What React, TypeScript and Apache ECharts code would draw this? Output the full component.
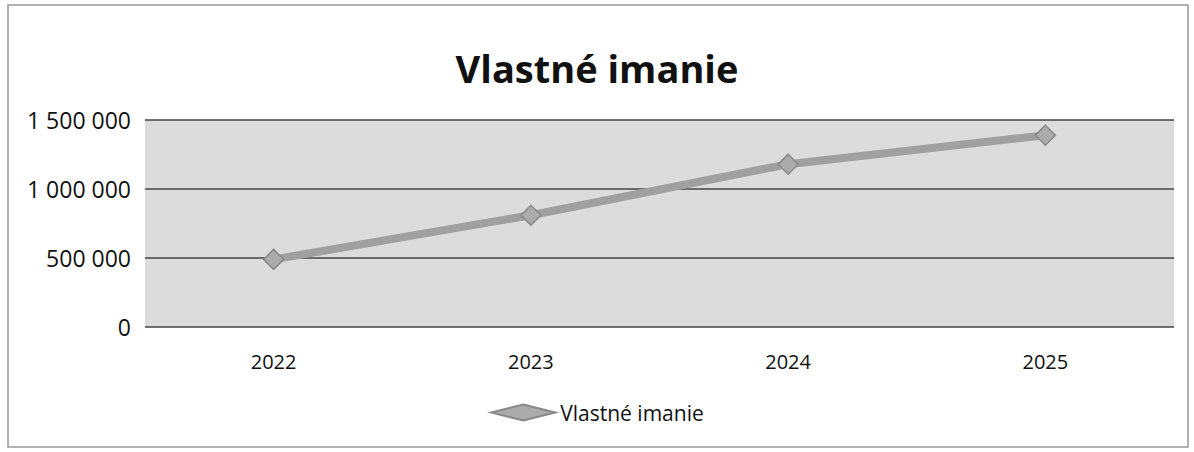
import React, { useEffect, useRef } from "react";
import * as echarts from "echarts";

const title = "Vlastné imanie";
const seriesName = "Vlastné imanie";
const categories = ["2022", "2023", "2024", "2025"];
const values = [490000, 810000, 1180000, 1390000];
const yTicks = [0, 500000, 1000000, 1500000];

const fmt = (v: number) => String(Math.round(v)).replace(/\B(?=(\d{3})+(?!\d))/g, " ");

export default function App() {
  const ref = useRef<HTMLDivElement>(null);
  useEffect(() => {
    document.body.style.margin = "0";
    const chart = echarts.init(ref.current!, undefined, { renderer: "svg" });
    const font = "'Open Sans', 'Noto Sans', sans-serif";
    chart.setOption({
      animation: false,
      backgroundColor: "#ffffff",
      title: {
        text: title,
        left: "center",
        top: 44,
        textStyle: { fontFamily: font, fontSize: 38, fontWeight: "bold", color: "#111" },
      },
      grid: { left: 145, right: 20, top: 120, bottom: 125, show: true, backgroundColor: "#dcdcdc", borderWidth: 0 },
      xAxis: {
        type: "category",
        data: categories,
        boundaryGap: true,
        axisLine: { show: false },
        axisTick: { show: false },
        axisLabel: { fontFamily: font, fontSize: 20, color: "#111", margin: 24 },
      },
      yAxis: {
        type: "value",
        min: yTicks[0],
        max: yTicks[yTicks.length - 1],
        interval: 500000,
        axisLine: { show: false },
        axisTick: { show: false },
        axisLabel: { fontFamily: font, fontSize: 23, color: "#111", margin: 14, formatter: (v: number) => fmt(v) },
        splitLine: { lineStyle: { color: "#444", width: 1.5 } },
      },
      legend: {
        bottom: 24,
        left: "center",
        itemWidth: 64,
        itemHeight: 16,
        itemGap: 0,
        textStyle: { fontFamily: font, fontSize: 21, color: "#111" },
        data: [{ name: seriesName, icon: "diamond" }],
      },
      series: [
        {
          name: seriesName,
          type: "line",
          data: values,
          symbol: "diamond",
          symbolSize: 20,
          lineStyle: { color: "#a0a0a0", width: 8 },
          itemStyle: { color: "#ababab", borderColor: "#888", borderWidth: 1.5 },
        },
      ],
      graphic: [
        {
          type: "rect",
          shape: { x: 8, y: 5, width: 1180, height: 442 },
          style: { fill: "none", stroke: "#999", lineWidth: 1.5 },
          silent: true,
        },
      ],
    });
    return () => chart.dispose();
  }, []);
  return <div ref={ref} style={{ width: 1194, height: 452 }} />;
}
